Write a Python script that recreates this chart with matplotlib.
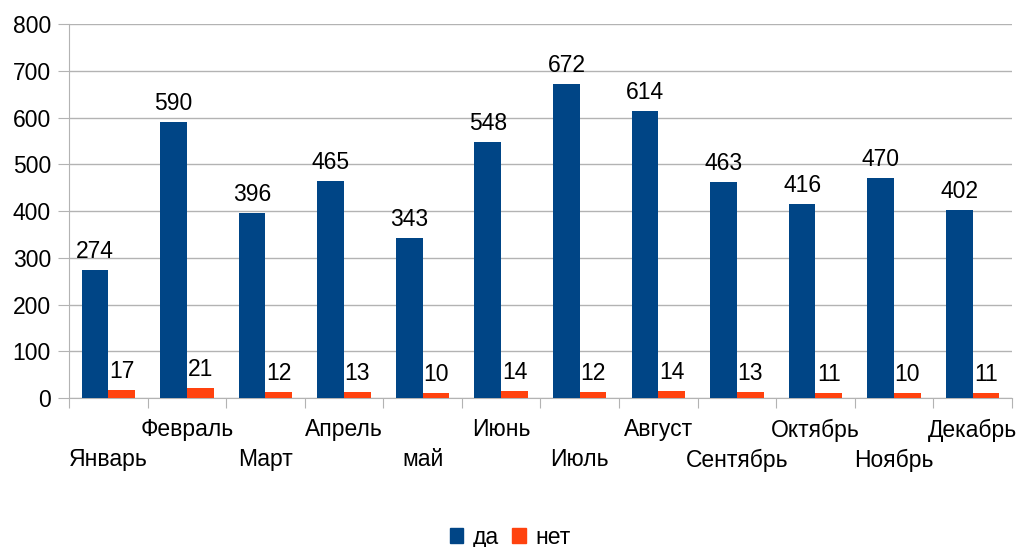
import matplotlib
matplotlib.use("Agg")
import matplotlib.pyplot as plt
import numpy as np
from matplotlib.patches import Patch

plt.rcParams['font.family'] = ['Liberation Sans', 'DejaVu Sans']

months = ["Январь", "Февраль", "Март", "Апрель", "май", "Июнь", "Июль",
          "Август", "Сентябрь", "Октябрь", "Ноябрь", "Декабрь"]
da = [274, 590, 396, 465, 343, 548, 672, 614, 463, 416, 470, 402]
net = [17, 21, 12, 13, 10, 14, 12, 14, 13, 11, 10, 11]

c_da = "#004586"
c_net = "#ff420e"
grid_c = "#b3b3b3"
fs = 16.5

fig = plt.figure(figsize=(10.16, 5.47), dpi=100)
ax = fig.add_axes([0.0679, 0.2724, 0.9281, 0.6836])

x = np.arange(len(months))
w = 0.34
b1 = ax.bar(x - w / 2, da, w, color=c_da, zorder=3)
b2 = ax.bar(x + w / 2, net, w, color=c_net, zorder=3)

for bars, vals in ((b1, da), (b2, net)):
    for rect, v in zip(bars, vals):
        ax.annotate(str(v), (rect.get_x() + rect.get_width() / 2, v),
                    xytext=(0, 12), textcoords="offset pixels",
                    ha="center", va="baseline", fontsize=fs)

ax.set_xlim(-0.5, len(months) - 0.5)
ax.set_ylim(0, 800)
ax.set_yticks(range(0, 801, 100))
ax.tick_params(axis="y", labelsize=fs, length=8, color=grid_c, pad=5)
ax.yaxis.grid(True, color=grid_c, linewidth=1, zorder=0)
ax.set_axisbelow(True)

# category boundary ticks
ax.set_xticks(np.arange(-0.5, len(months), 1.0))
ax.set_xticklabels([])
ax.tick_params(axis="x", length=7, color=grid_c)

for i, m in enumerate(months):
    yoff = -62 if i % 2 == 0 else -32
    ax.annotate(m, (i, 0), xytext=(0, yoff), textcoords="offset pixels",
                ha="center", va="center", fontsize=fs, annotation_clip=False)

for s in ["top", "right"]:
    ax.spines[s].set_visible(False)
ax.spines["left"].set_color(grid_c)
ax.spines["bottom"].set_color(grid_c)

handles = [Patch(color=c_da, label="да"), Patch(color=c_net, label="нет")]
fig.legend(handles=handles, loc="center", bbox_to_anchor=(0.502, 0.018),
           ncol=2, frameon=False, fontsize=fs, handlelength=0.6,
           handleheight=0.6, handletextpad=0.4, columnspacing=0.6)

fig.savefig("out.png", dpi=100)
